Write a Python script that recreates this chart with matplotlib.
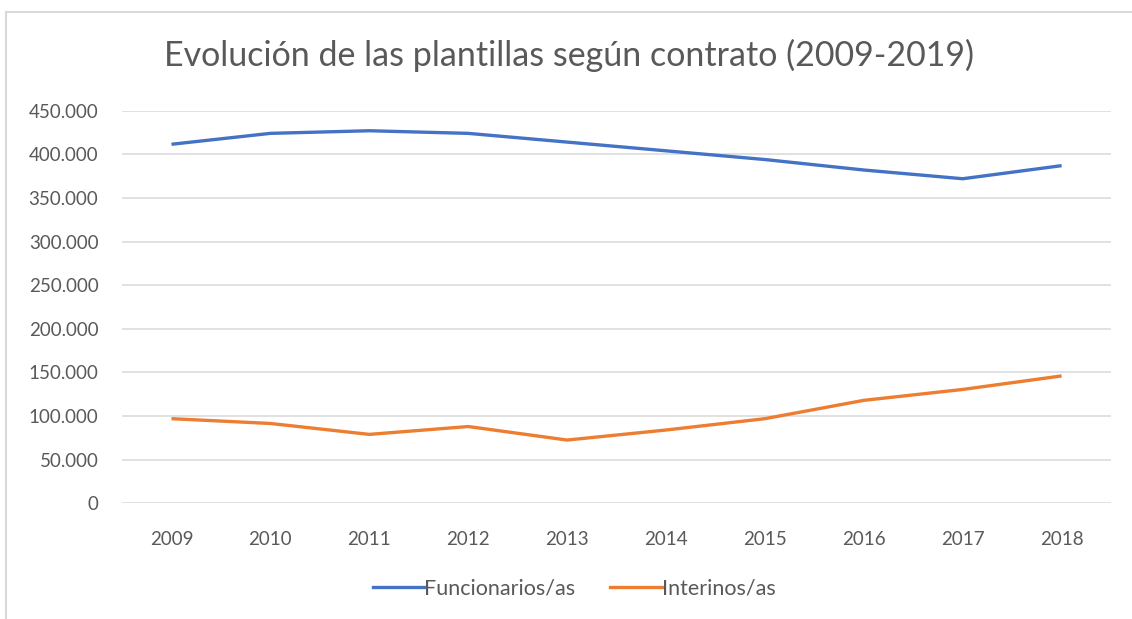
import matplotlib
matplotlib.use("Agg")
import matplotlib.pyplot as plt
from matplotlib.lines import Line2D
from matplotlib.ticker import FuncFormatter

years = ["2009", "2010", "2011", "2012", "2013", "2014", "2015", "2016", "2017", "2018"]
funcionarios = [411500, 424000, 427000, 424000, 414000, 404000, 394000, 382000, 372000, 387000]
interinos = [97000, 91500, 79000, 88000, 72500, 84000, 97000, 118000, 130500, 146000]

title = "Evolución de las plantillas según contrato (2009-2019)"
labels = ["Funcionarios/as", "Interinos/as"]

plt.rcParams['font.family'] = ['Lato', 'DejaVu Sans']
TXT = "#595959"

fig = plt.figure(figsize=(11.32, 6.19), dpi=100)
ax = fig.add_axes([0.1078, 0.1869, 0.8737, 0.6343])

x = list(range(len(years)))
ax.plot(x, funcionarios, color="#4472C4", lw=2.4, solid_capstyle='butt', zorder=3)
ax.plot(x, interinos, color="#ED7D31", lw=2.4, solid_capstyle='butt', zorder=3)

ax.set_xlim(-0.5, len(years) - 0.5)
ax.set_ylim(0, 450000)
ax.set_yticks(range(0, 450001, 50000))
ax.yaxis.set_major_formatter(FuncFormatter(lambda v, p: "0" if v == 0 else f"{int(v):,}".replace(",", ".")))
ax.set_xticks(x)
ax.set_xticklabels(years)
ax.grid(axis='y', color="#D9D9D9", lw=1.1)
ax.set_axisbelow(True)
for s in ax.spines.values():
    s.set_visible(False)
ax.tick_params(axis='both', length=0, colors=TXT, labelsize=13.5)
ax.tick_params(axis='y', pad=17)
ax.tick_params(axis='x', pad=20)

fig.text(0.503, 0.911, title, ha='center', va='center', fontsize=24.5, color=TXT)

# chart border (left and top)
fig.add_artist(Line2D([0.0055, 0.0055], [0.0, 0.981], transform=fig.transFigure, color="#D9D9D9", lw=1.5))
fig.add_artist(Line2D([0.0055, 1.0], [0.981, 0.981], transform=fig.transFigure, color="#D9D9D9", lw=1.5))

handles = [Line2D([], [], color="#4472C4", lw=2.4), Line2D([], [], color="#ED7D31", lw=2.4)]
fig.legend(handles, labels, loc='center', bbox_to_anchor=(0.507, 0.05), ncol=2, frameon=False,
           fontsize=15.5, labelcolor=TXT, handlelength=2.4, handletextpad=0.0, columnspacing=1.6)

fig.savefig("out.png", dpi=100)
